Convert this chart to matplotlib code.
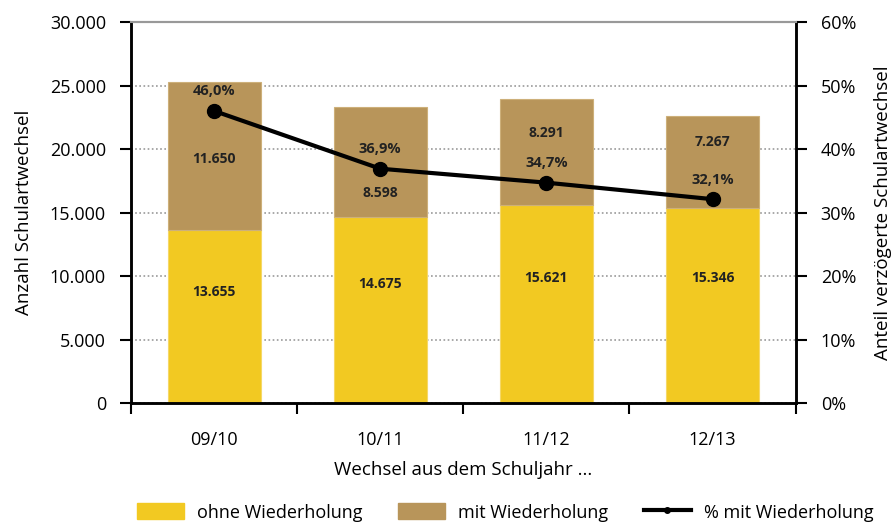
import numpy as np
import matplotlib.pyplot as plt
from matplotlib.patches import Patch
from matplotlib.lines import Line2D

plt.rcParams['font.family'] = ['Open Sans', 'DejaVu Sans']

years = ['09/10', '10/11', '11/12', '12/13']
ohne = [13655, 14675, 15621, 15346]
mit = [11650, 8598, 8291, 7267]
pct = [46.0, 36.9, 34.7, 32.1]

# where the value labels sit inside each segment (fraction of segment height)
ohne_lab_frac = [0.64, 0.64, 0.63, 0.64]
mit_lab_frac = [0.48, 0.22, 0.68, 0.72]

yellow = '#F2C922'
brown = '#B8955A'

fig = plt.figure(figsize=(8.94, 5.24), dpi=100)
ax = fig.add_axes([0.1465, 0.2309, 0.7435, 0.7271])
ax2 = ax.twinx()

x = np.arange(len(years)) + 0.5
w = 0.56
ax.bar(x, ohne, w, color=yellow, edgecolor='#F5D867', linewidth=0.8, zorder=2)
ax.bar(x, mit, w, bottom=ohne, color=brown, edgecolor='#CDB07A', linewidth=0.8, zorder=2)

for xi, o, m, fo, fm in zip(x, ohne, mit, ohne_lab_frac, mit_lab_frac):
    ax.text(xi, o * fo, f'{o:,}'.replace(',', '.'), ha='center', va='center',
            fontsize=10, fontweight='bold', color='#222222', zorder=5)
    ax.text(xi, o + m * fm, f'{m:,}'.replace(',', '.'), ha='center', va='center',
            fontsize=10, fontweight='bold', color='#222222', zorder=5)

ax2.plot(x, pct, color='black', lw=3, marker='o', ms=10, zorder=4)
for xi, p in zip(x, pct):
    ax2.annotate(f'{p:.1f}%'.replace('.', ','), (xi, p), xytext=(0, 14),
                 textcoords='offset points', ha='center', va='center',
                 fontsize=10.5, fontweight='bold', color='#222222')

ax.set_xlim(0, 4)
ax.set_ylim(0, 30000)
ax2.set_ylim(0, 60)
ax.set_yticks(np.arange(0, 30001, 5000))
ax.set_yticklabels(['0', '5.000', '10.000', '15.000', '20.000', '25.000', '30.000'])
ax2.set_yticks(np.arange(0, 61, 10))
ax2.set_yticklabels([f'{v}%' for v in range(0, 61, 10)])

ax.set_xticks([0, 1, 2, 3, 4])
ax.set_xticklabels([])
ax.set_xticks(x, minor=True)
ax.set_xticklabels(years, minor=True)
ax.tick_params(axis='x', which='minor', length=0, pad=20, labelsize=13)
ax.tick_params(axis='x', which='major', length=8, width=1.5, direction='out')
ax.tick_params(axis='y', length=8, width=1.5, labelsize=13, pad=10)
ax2.tick_params(axis='y', length=8, width=1.5, labelsize=13, pad=10)

ax.grid(axis='y', color='#999999', linestyle=(0, (1, 1.5)), linewidth=1.2, zorder=0)
ax.set_axisbelow(True)

for a in (ax, ax2):
    a.spines['top'].set_color('#999999')
    a.spines['top'].set_linewidth(1.5)
    for s in ('left', 'right', 'bottom'):
        a.spines[s].set_linewidth(1.8)

ax.set_xlabel('Wechsel aus dem Schuljahr ...', fontsize=13.5, labelpad=9)
ax.set_ylabel('Anzahl Schulartwechsel', fontsize=13.5, labelpad=12)
ax2.set_ylabel('Anteil verzögerte Schulartwechsel', fontsize=13.5, labelpad=13)

handles = [Patch(color=yellow, label='ohne Wiederholung'),
           Patch(color=brown, label='mit Wiederholung'),
           Line2D([], [], color='black', lw=3, marker='o', ms=4, label='% mit Wiederholung')]
fig.legend(handles=handles, loc='center', bbox_to_anchor=(0.565, 0.022), ncol=3,
           frameon=False, fontsize=13, handlelength=2.6, handleheight=1.0,
           columnspacing=2.0, handletextpad=0.7)

fig.savefig('out.png', dpi=100)
